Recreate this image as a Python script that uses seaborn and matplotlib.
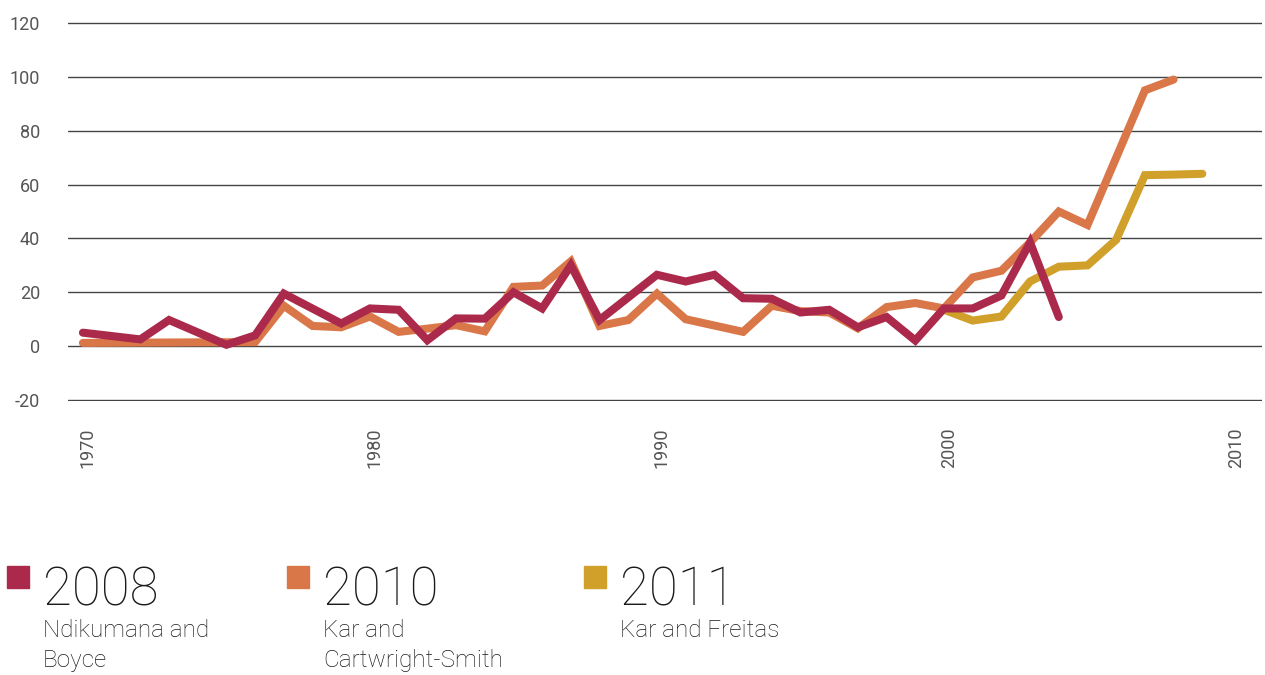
import matplotlib
matplotlib.use("Agg")
import matplotlib.pyplot as plt
import matplotlib.patches as mpatches
from matplotlib.transforms import ScaledTranslation
import seaborn as sns
import pandas as pd

# ---- data ----
red_years = [1970, 1972, 1973, 1975, 1976, 1977, 1979, 1980, 1981, 1982, 1983, 1984,
             1985, 1986, 1987, 1988, 1990, 1991, 1992, 1993, 1994, 1995, 1996, 1997,
             1998, 1999, 2000, 2001, 2002, 2003, 2004]
red_vals = [5.0, 2.5, 9.7, 0.5, 4.0, 19.5, 8.4, 14.0, 13.5, 2.2, 10.3, 10.2,
            20.0, 14.0, 30.0, 9.7, 26.5, 24.0, 26.5, 17.8, 17.6, 12.5, 13.5, 7.0,
            10.8, 2.1, 14.0, 14.0, 18.8, 38.5, 10.8]

orange_years = [1970, 1976, 1977, 1978, 1979, 1980, 1981, 1982, 1983, 1984, 1985, 1986,
                1987, 1988, 1989, 1990, 1991, 1993, 1994, 1995, 1996, 1997, 1998, 1999,
                2000, 2001, 2002, 2003, 2004, 2005, 2006, 2007, 2008]
orange_vals = [1.2, 1.5, 15.0, 7.5, 7.0, 11.0, 5.3, 6.5, 7.8, 5.5, 22.0, 22.5,
               31.5, 7.5, 9.7, 19.5, 10.0, 5.3, 15.0, 13.0, 12.5, 6.6, 14.5, 16.0,
               14.0, 25.5, 28.0, 38.5, 50.0, 45.0, 70.0, 95.0, 99.0]

yellow_years = [2000, 2001, 2002, 2003, 2004, 2005, 2006, 2007, 2008, 2009]
yellow_vals = [13.5, 9.5, 11.0, 24.0, 29.5, 30.0, 39.5, 63.5, 63.7, 64.0]

legend_years = ["2008", "2010", "2011"]
legend_sources = ["Ndikumana and\nBoyce", "Kar and\nCartwright-Smith", "Kar and Freitas"]
colors = ["#AB2A4B", "#DA7748", "#D1A02B"]

x_ticks = [1970, 1980, 1990, 2000, 2010]
y_ticks = [-20, 0, 20, 40, 60, 80, 100, 120]

# ---- plot ----
sns.set_style("white")
plt.rcParams['font.family'] = ['Roboto', 'DejaVu Sans']

fig = plt.figure(figsize=(12.65, 6.75), dpi=100)
top_px, bot_px = 22.2, 400.8
ax = fig.add_axes([68 / 1265, 1 - bot_px / 675, (1262 - 68) / 1265, (bot_px - top_px) / 675])

df_o = pd.DataFrame({"year": orange_years, "value": orange_vals})
df_y = pd.DataFrame({"year": yellow_years, "value": yellow_vals})
df_r = pd.DataFrame({"year": red_years, "value": red_vals})

lw = 5.8
sns.lineplot(data=df_o, x="year", y="value", ax=ax, color=colors[1], linewidth=lw,
             solid_capstyle="round", solid_joinstyle="miter", zorder=3)
sns.lineplot(data=df_y, x="year", y="value", ax=ax, color=colors[2], linewidth=lw,
             solid_capstyle="round", solid_joinstyle="miter", zorder=4)
sns.lineplot(data=df_r, x="year", y="value", ax=ax, color=colors[0], linewidth=lw,
             solid_capstyle="round", solid_joinstyle="miter", zorder=5)

ax.set_xlim(1969.48, 2011.08)
ax.set_ylim(-20.3, 120.3)
ax.set_xticks(x_ticks)
ax.set_yticks(y_ticks)
ax.set_xticklabels([str(v) for v in x_ticks], rotation=90, fontsize=13,
                   color="#555555", va="top")
ax.set_yticklabels([str(v) for v in y_ticks], fontsize=13, color="#555555")
ax.tick_params(axis="x", length=0, pad=19)
ax.tick_params(axis="y", length=0, pad=20)
for lab in ax.get_xticklabels():
    lab.set_transform(lab.get_transform() + ScaledTranslation(5 / 100, 0, fig.dpi_scale_trans))
ax.set_xlabel("")
ax.set_ylabel("")
for s in ax.spines.values():
    s.set_visible(False)
ax.grid(axis="y", color="#444444", linewidth=1.0, zorder=0)
ax.grid(axis="x", visible=False)
ax.set_axisbelow(True)

# ---- custom legend ----
leg_x = [7, 287, 584]
for i in range(3):
    x0 = leg_x[i]
    fig.patches.append(mpatches.Rectangle((x0 / 1265, 1 - 588 / 675), 22 / 1265, 22 / 675,
                                          transform=fig.transFigure, color=colors[i]))
    fig.text((x0 + 36) / 1265, 1 - 605 / 675, legend_years[i], fontsize=38,
             color="#1a1a1a", va="baseline", ha="left", fontweight="light")
    fig.text((x0 + 36) / 1265, 1 - 619 / 675, legend_sources[i], fontsize=17.5,
             color="#1a1a1a", va="top", ha="left", linespacing=1.4, fontweight="light")

fig.savefig("out.png", dpi=100)
